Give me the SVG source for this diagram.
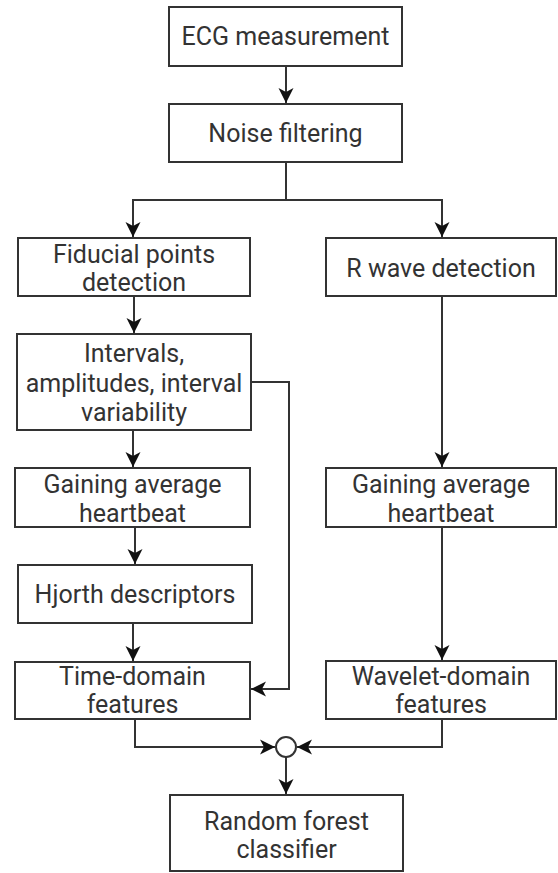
<svg xmlns="http://www.w3.org/2000/svg" width="558" height="873" viewBox="0 0 558 873">
<style>
.box{fill:#fff;stroke:#333;stroke-width:2}
.t{font-family:Roboto,"Liberation Sans",sans-serif;font-size:25px;fill:#333;text-anchor:middle}
.c{fill:none;stroke:#333;stroke-width:2}
</style>
<defs>
<marker id="ah" markerUnits="userSpaceOnUse" markerWidth="18" markerHeight="18" viewBox="-16 -9 18 18" refX="0" refY="0" orient="auto">
<path d="M0,0 L-15,-7.5 L-11,0 L-15,7.5 Z" fill="#111"/>
</marker>
</defs>
<rect width="558" height="873" fill="#fff"/>
<g id="connectors">
<path class="c" d="M286,66 V103" marker-end="url(#ah)"/>
<path class="c" d="M286,162 V200 H133 V237" marker-end="url(#ah)"/>
<path class="c" d="M286,200 H442 V237" marker-end="url(#ah)"/>
<path class="c" d="M134,296 V333" marker-end="url(#ah)"/>
<path class="c" d="M133,430 V467" marker-end="url(#ah)"/>
<path class="c" d="M135,527 V564" marker-end="url(#ah)"/>
<path class="c" d="M133,623 V661" marker-end="url(#ah)"/>
<path class="c" d="M251,382 H289 V689 H251" marker-end="url(#ah)"/>
<path class="c" d="M442,296 V467" marker-end="url(#ah)"/>
<path class="c" d="M442,527 V660" marker-end="url(#ah)"/>
<path class="c" d="M135,719 V747 H275" marker-end="url(#ah)"/>
<path class="c" d="M442,719 V747 H297" marker-end="url(#ah)"/>
<path class="c" d="M286,757 V794" marker-end="url(#ah)"/>
<circle cx="286" cy="747" r="10" fill="#fff" stroke="#333" stroke-width="2"/>
</g>
<g id="ecg"><rect class="box" x="169" y="7" width="233" height="59"/><text class="t" x="285.5" y="45">ECG measurement</text></g>
<g id="noise"><rect class="box" x="169" y="104" width="233" height="58"/><text class="t" x="285.5" y="142">Noise filtering</text></g>
<g id="fiducial"><rect class="box" x="18" y="238" width="232" height="58"/><text class="t" x="134" y="263">Fiducial points</text><text class="t" x="134" y="291">detection</text></g>
<g id="rwave"><rect class="box" x="326" y="238" width="230" height="58"/><text class="t" x="441" y="277">R wave detection</text></g>
<g id="intervals"><rect class="box" x="17" y="334" width="234" height="96"/><text class="t" x="134" y="362">Intervals,</text><text class="t" x="134" y="392">amplitudes, interval</text><text class="t" x="134" y="421">variability</text></g>
<g id="avgL"><rect class="box" x="15" y="468" width="235" height="59"/><text class="t" x="132.5" y="493">Gaining average</text><text class="t" x="132.5" y="522">heartbeat</text></g>
<g id="avgR"><rect class="box" x="326" y="468" width="230" height="59"/><text class="t" x="441" y="493">Gaining average</text><text class="t" x="441" y="522">heartbeat</text></g>
<g id="hjorth"><rect class="box" x="18" y="565" width="234" height="58"/><text class="t" x="135" y="603">Hjorth descriptors</text></g>
<g id="time"><rect class="box" x="15" y="662" width="235" height="57"/><text class="t" x="132.5" y="685">Time-domain</text><text class="t" x="132.5" y="713">features</text></g>
<g id="wavelet"><rect class="box" x="326" y="661" width="230" height="58"/><text class="t" x="441" y="685">Wavelet-domain</text><text class="t" x="441" y="713">features</text></g>
<g id="rf"><rect class="box" x="170" y="795" width="233" height="76"/><text class="t" x="286.5" y="830">Random forest</text><text class="t" x="286.5" y="858">classifier</text></g>
</svg>
